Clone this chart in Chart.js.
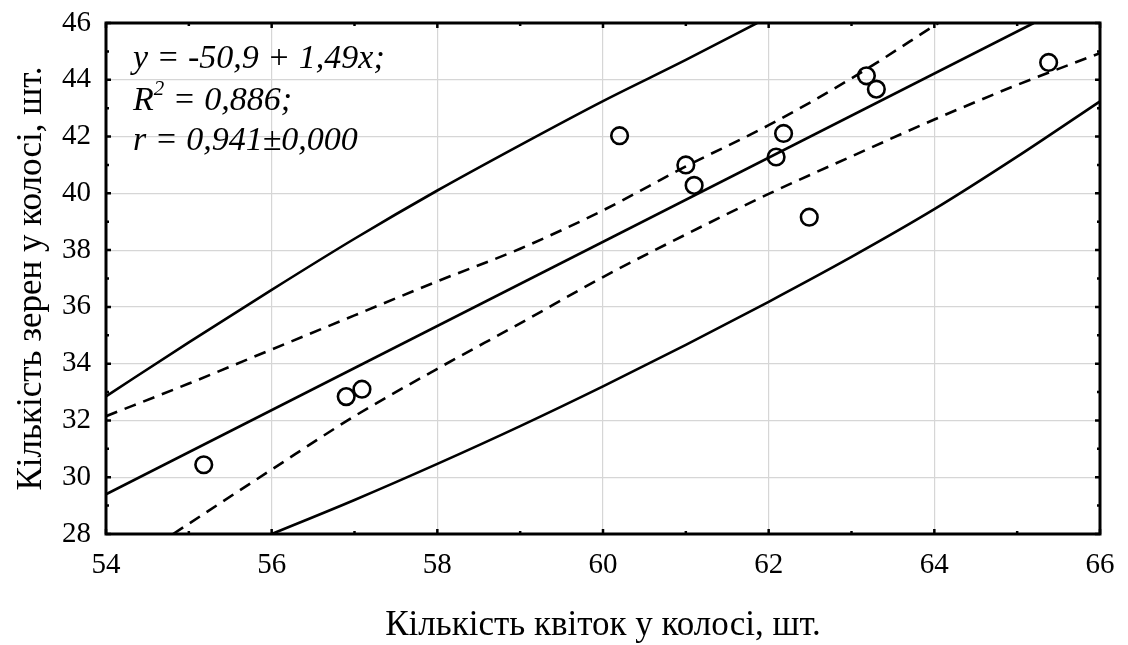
<!DOCTYPE html>
<html>
<head>
<meta charset="utf-8">
<script src="https://cdn.jsdelivr.net/npm/chart.js@4"></script>
<style>
  html, body { margin: 0; padding: 0; background: #fff; }
  #wrap { width: 1128px; height: 645px; }
</style>
</head>
<body>
<div id="wrap"><canvas id="chart" width="1128" height="645"></canvas></div>
<script>
// observed points
const pointX = [55.18, 56.9, 57.09, 60.2, 61.0, 61.1, 62.09, 62.18, 62.49, 63.18, 63.3, 65.38];
const pointY = [30.44, 32.84, 33.1, 42.03, 41.0, 40.28, 41.28, 42.11, 39.16, 44.14, 43.67, 44.61];

// regression line (read at the ends)
const fitX = [54, 65.2];
const fitY = [29.4, 46];

// outer solid bands
const upperOuterX = [54, 55, 56, 57, 58, 59, 60, 61, 61.86];
const upperOuterY = [32.85, 34.75, 36.6, 38.4, 40.1, 41.7, 43.25, 44.7, 46];
const lowerOuterX = [56, 57, 58, 59, 60, 61, 62, 63, 64, 65, 66];
const lowerOuterY = [28, 29.2, 30.47, 31.8, 33.2, 34.66, 36.18, 37.76, 39.44, 41.29, 43.24];

// inner dashed bands
const upperInnerX = [54, 55, 56, 57, 58, 59, 60, 61, 62, 63, 64.05];
const upperInnerY = [32.15, 33.3, 34.5, 35.7, 36.9, 38.05, 39.4, 40.95, 42.4, 44.05, 46];
const lowerInnerX = [54.81, 56, 57, 58, 59, 60, 61, 62, 63, 64, 65, 66];
const lowerInnerY = [28, 30.27, 32.15, 33.82, 35.42, 37.05, 38.55, 39.98, 41.3, 42.6, 43.82, 44.94];

const annotation = ["y = -50,9 + 1,49x;", "R", "2", " = 0,886;", "r = 0,941\u00b10,000"];

const serif = "'Liberation Serif', 'Times New Roman', serif";

const toPoints = (xs, ys) => xs.map((x, i) => ({ x: x, y: ys[i] }));

const lineSet = (xs, ys, dashed) => ({
  type: "line",
  data: toPoints(xs, ys),
  borderColor: "#000",
  borderWidth: 2.6,
  borderDash: dashed ? [12, 8] : [],
  pointRadius: 0,
  fill: false,
  showLine: true,
  cubicInterpolationMode: "monotone",
});

// box, inward ticks and the equation text
const framePlugin = {
  id: "frame",
  afterDraw(chart) {
    const { ctx, chartArea: a, scales } = chart;
    const xs = scales.x, ys = scales.y;
    ctx.save();
    ctx.strokeStyle = "#000";
    ctx.lineWidth = 2.5;
    ctx.beginPath();
    for (let v = 54; v <= 66; v++) {
      const px = xs.getPixelForValue(v);
      const len = v % 2 === 0 ? 5 : 3;
      ctx.moveTo(px, a.bottom); ctx.lineTo(px, a.bottom - len);
      ctx.moveTo(px, a.top); ctx.lineTo(px, a.top + len);
    }
    for (let v = 28; v <= 46; v++) {
      const py = ys.getPixelForValue(v);
      const len = v % 2 === 0 ? 5 : 3;
      ctx.moveTo(a.left, py); ctx.lineTo(a.left + len, py);
      ctx.moveTo(a.right, py); ctx.lineTo(a.right - len, py);
    }
    ctx.stroke();
    ctx.lineWidth = 3;
    ctx.strokeRect(a.left, a.top, a.right - a.left, a.bottom - a.top);

    ctx.fillStyle = "#000";
    ctx.textBaseline = "alphabetic";
    ctx.font = "italic 34px " + serif;
    const tx = a.left + 27;
    ctx.fillText(annotation[0], tx, a.top + 45);
    ctx.fillText(annotation[1], tx, a.top + 87);
    const rw = ctx.measureText(annotation[1]).width;
    ctx.font = "italic 21px " + serif;
    ctx.fillText(annotation[2], tx + rw, a.top + 72);
    const sw = ctx.measureText(annotation[2]).width;
    ctx.font = "italic 34px " + serif;
    ctx.fillText(annotation[3], tx + rw + sw, a.top + 87);
    ctx.fillText(annotation[4], tx, a.top + 127);
    ctx.restore();
  },
};

new Chart(document.getElementById("chart"), {
  type: "scatter",
  data: {
    datasets: [
      lineSet(upperOuterX, upperOuterY, false),
      lineSet(lowerOuterX, lowerOuterY, false),
      lineSet(upperInnerX, upperInnerY, true),
      lineSet(lowerInnerX, lowerInnerY, true),
      lineSet(fitX, fitY, false),
      {
        type: "scatter",
        data: toPoints(pointX, pointY),
        pointStyle: "circle",
        pointRadius: 8.3,
        pointBorderWidth: 2.6,
        pointBorderColor: "#000",
        pointBackgroundColor: "rgba(0,0,0,0)",
      },
    ],
  },
  options: {
    responsive: false,
    animation: false,
    events: [],
    layout: { padding: { top: 23, right: 28, left: 0, bottom: 0 } },
    plugins: { legend: { display: false }, tooltip: { enabled: false } },
    scales: {
      x: {
        type: "linear",
        min: 54,
        max: 66,
        afterFit: (s) => { s.height = 111; s.paddingLeft = 0; s.paddingRight = 0; },
        border: { display: false },
        grid: { color: "#d6d6d6", lineWidth: 1.2, drawTicks: false },
        ticks: {
          stepSize: 2,
          padding: 14,
          color: "#000",
          font: { family: serif, size: 29 },
        },
        title: {
          display: true,
          text: "Кількість квіток у колосі, шт.",
          color: "#000",
          font: { family: serif, size: 35 },
          padding: { top: 0, bottom: -2 },
        },
      },
      y: {
        type: "linear",
        min: 28,
        max: 46,
        afterFit: (s) => { s.width = 106; s.paddingTop = 0; s.paddingBottom = 0; },
        border: { display: false },
        grid: { color: "#d6d6d6", lineWidth: 1.2, drawTicks: false },
        ticks: {
          stepSize: 2,
          padding: 15,
          color: "#000",
          font: { family: serif, size: 29 },
        },
        title: {
          display: true,
          text: "Кількість зерен у колосі, шт.",
          color: "#000",
          font: { family: serif, size: 35 },
          padding: { top: 11, bottom: 0 },
        },
      },
    },
  },
  plugins: [framePlugin],
});
</script>
</body>
</html>
